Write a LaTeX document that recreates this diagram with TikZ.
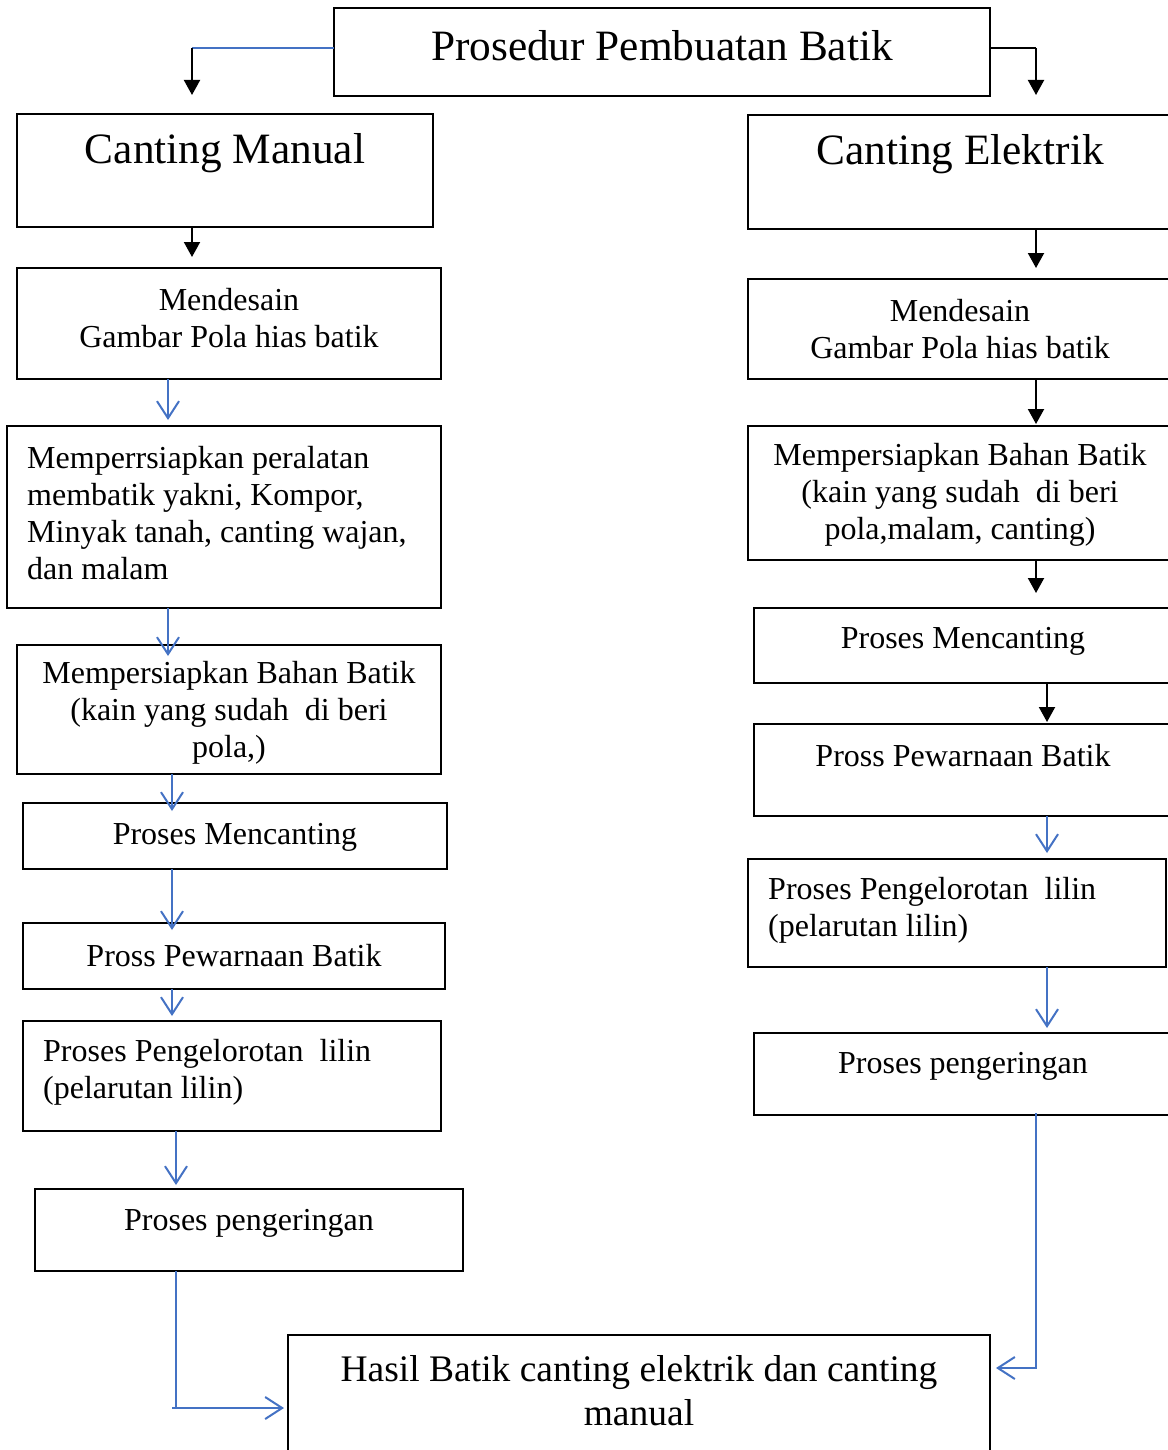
\documentclass[tikz,border=0pt]{standalone}
\usepackage{fontspec}
\setmainfont{Liberation Serif}
\usetikzlibrary{arrows.meta}
\definecolor{lnblue}{RGB}{68,114,196}
\begin{document}
\begin{tikzpicture}[x=1pt,y=-1pt,
  box/.style={draw, line width=1.3pt, inner sep=0pt, outer sep=0pt, anchor=north west},
  txt/.style={font=\fontsize{32}{37}\selectfont, inner sep=0pt, align=center},
  ltxt/.style={font=\fontsize{32}{37}\selectfont, inner sep=0pt, align=left, anchor=west},
  big/.style={font=\fontsize{43.3}{48}\selectfont, inner sep=0pt},
  hasiltxt/.style={font=\fontsize{37.5}{44}\selectfont, inner sep=0pt, align=center},
  blk/.style={line width=2pt, -{Triangle[length=15pt,width=16pt]}},
  blkline/.style={line width=2pt},
  blu/.style={lnblue, line width=2pt, -{Straight Barb[length=17pt,width=22pt,line width=2pt]}},
  bluline/.style={lnblue, line width=2pt}]
\useasboundingbox (0,0) rectangle (1167,1450);
% boxes
\node[box, minimum width=656pt, minimum height=88pt] (title) at (334,8) {};
\node[box, minimum width=416pt, minimum height=113pt] (cmL) at (17,114) {};
\node[box, minimum width=424pt, minimum height=111pt] (mdL) at (17,268) {};
\node[box, minimum width=434pt, minimum height=182pt] (mpL) at (7,426) {};
\node[box, minimum width=424pt, minimum height=129pt] (bbL) at (17,645) {};
\node[box, minimum width=424pt, minimum height=66pt] (mcL) at (23,803) {};
\node[box, minimum width=422pt, minimum height=66pt] (pwL) at (23,923) {};
\node[box, minimum width=418pt, minimum height=110pt] (plL) at (23,1021) {};
\node[box, minimum width=428pt, minimum height=82pt] (pgL) at (35,1189) {};
\node[box, minimum width=702pt, minimum height=135pt] (hasil) at (288,1335) {};
\node[box, minimum width=427pt, minimum height=114pt] (ceR) at (748,115) {};
\node[box, minimum width=427pt, minimum height=100pt] (mdR) at (748,279) {};
\node[box, minimum width=427pt, minimum height=134pt] (bbR) at (748,426) {};
\node[box, minimum width=421pt, minimum height=75pt] (mcR) at (754,608) {};
\node[box, minimum width=421pt, minimum height=92pt] (pwR) at (754,724) {};
\node[box, minimum width=418pt, minimum height=108pt] (plR) at (748,859) {};
\node[box, minimum width=421pt, minimum height=82pt] (pgR) at (754,1033) {};
% texts
\node[big] (t0) at (662,46) {Prosedur Pembuatan Batik};
\node[big] (t1) at (225,153) {Canting Manual};
\node[big] (t2) at (960,154) {Canting Elektrik};
\node[txt] (t3) at (229,318) {Mendesain\\Gambar Pola hias batik};
\node[ltxt] (t4) at (27,513) {Memperrsiapkan peralatan\\membatik yakni, Kompor,\\Minyak tanah, canting wajan,\\dan malam};
\node[txt] (t5) at (229,713) {Mempersiapkan Bahan Batik\\(kain yang sudah~ di beri\\pola,)};
\node[txt] (t6) at (235,837) {Proses Mencanting};
\node[txt] (t7) at (234,956) {Pross Pewarnaan Batik};
\node[ltxt] (t8) at (43,1072) {Proses Pengelorotan~ lilin\\(pelarutan lilin)};
\node[txt] (t9) at (249,1223) {Proses pengeringan};
\node[hasiltxt] (t10) at (639,1391) {Hasil Batik canting elektrik dan canting\\manual};
\node[txt] (t11) at (960,329) {Mendesain\\Gambar Pola hias batik};
\node[txt] (t12) at (960,495) {Mempersiapkan Bahan Batik\\(kain yang sudah~ di beri\\pola,malam, canting)};
\node[txt] (t13) at (963,641) {Proses Mencanting};
\node[txt] (t14) at (963,756) {Pross Pewarnaan Batik};
\node[ltxt] (t15) at (768,910) {Proses Pengelorotan~ lilin\\(pelarutan lilin)};
\node[txt] (t16) at (963,1066) {Proses pengeringan};
% helper coordinates
\coordinate (cTL) at (192,48);
\coordinate (cTR) at (1036,48);
\coordinate (x168) at (168,0);
\coordinate (x172) at (172,0);
\coordinate (x176) at (176,0);
\coordinate (x1036) at (1036,0);
\coordinate (x1047) at (1047,0);
\coordinate (k1) at (172,1408);
\coordinate (k2) at (176,1408);
\coordinate (r1) at (1036,1113);
\coordinate (r2) at (1036,1368);
% connectors left
\draw[bluline] (title.west |- cTL) -- (cTL);
\draw[blk, shorten >=19pt] (cTL) -- (cmL.north -| cTL);
\draw[blk, shorten >=11pt] (cmL.south -| cTL) -- (mdL.north -| cTL);
\draw[blu, shorten >=6pt] (mdL.south -| x168) -- (mpL.north -| x168);
\draw[blu, shorten >=-11pt] (mpL.south -| x168) -- (bbL.north -| x168);
\draw[blu, shorten >=-8pt] (bbL.south -| x172) -- (mcL.north -| x172);
\draw[blu, shorten >=-7pt] (mcL.south -| x172) -- (pwL.north -| x172);
\draw[blu, shorten >=5pt] (pwL.south -| x172) -- (plL.north -| x172);
\draw[blu, shorten >=4pt] (plL.south -| x176) -- (pgL.north -| x176);
\draw[bluline] (pgL.south -| x176) -- (k2);
\draw[blu, shorten >=4pt] (k1) -- (hasil.west |- k1);
% connectors right
\draw[blkline] (title.east |- cTR) -- (cTR);
\draw[blk, shorten >=20pt] (cTR) -- (ceR.north -| cTR);
\draw[blk, shorten >=11pt] (ceR.south -| x1036) -- (mdR.north -| x1036);
\draw[blk, shorten >=2pt] (mdR.south -| x1036) -- (bbR.north -| x1036);
\draw[blk, shorten >=15pt] (bbR.south -| x1036) -- (mcR.north -| x1036);
\draw[blk, shorten >=2pt] (mcR.south -| x1047) -- (pwR.north -| x1047);
\draw[blu, shorten >=6pt] (pwR.south -| x1047) -- (plR.north -| x1047);
\draw[blu, shorten >=5pt] (plR.south -| x1047) -- (pgR.north -| x1047);
\draw[blu, shorten >=6pt] (r1) -- (r2) -- (hasil.east |- r2);
\end{tikzpicture}
\end{document}
